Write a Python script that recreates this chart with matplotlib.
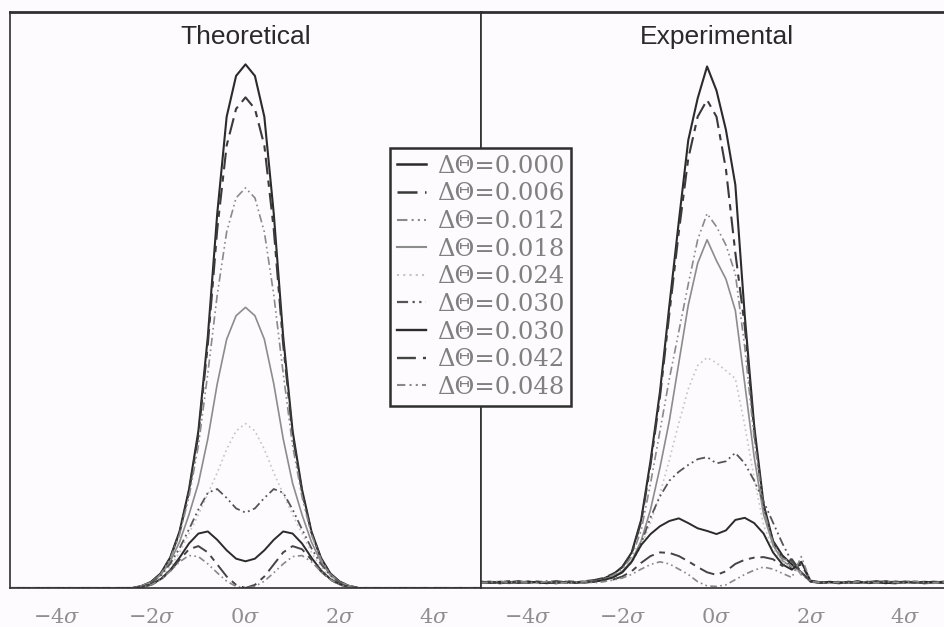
import matplotlib
matplotlib.use("Agg")
import matplotlib.pyplot as plt
from matplotlib.lines import Line2D

plt.rcParams["mathtext.fontset"] = "dejavuserif"

# ---------------------------------------------------------------- data
series_labels = ["ΔΘ=0.000", "ΔΘ=0.006", "ΔΘ=0.012", "ΔΘ=0.018", "ΔΘ=0.024",
                 "ΔΘ=0.030", "ΔΘ=0.030", "ΔΘ=0.042", "ΔΘ=0.048"]
panel_titles = ["Theoretical", "Experimental"]
tick_pos = [-4, -2, 0, 2, 4]
tick_labels = [r"$-4\sigma$", r"$-2\sigma$", r"$0\sigma$", r"$2\sigma$", r"$4\sigma$"]

# theoretical profiles (position in units of sigma)
theo_x = [-5.0, -2.4, -2.2, -2.0, -1.8, -1.6, -1.4, -1.2, -1.0, -0.8, -0.6, -0.4, -0.2,
          0.0, 0.2, 0.4, 0.6, 0.8, 1.0, 1.2, 1.4, 1.6, 1.8, 2.0, 2.2, 2.4, 5.0]
theo_d000 = [0.000, 0.000, 0.004, 0.012, 0.028, 0.058, 0.108, 0.188, 0.300, 0.480, 0.715, 0.900, 0.978,
             1.000, 0.978, 0.900, 0.715, 0.480, 0.300, 0.188, 0.108, 0.058, 0.028, 0.012, 0.004, 0.000, 0.000]
theo_d006 = [0.000, 0.000, 0.004, 0.012, 0.027, 0.057, 0.106, 0.184, 0.292, 0.465, 0.685, 0.845, 0.915,
             0.937, 0.915, 0.845, 0.685, 0.465, 0.292, 0.184, 0.106, 0.057, 0.027, 0.012, 0.004, 0.000, 0.000]
theo_d012 = [0.000, 0.000, 0.004, 0.011, 0.026, 0.055, 0.102, 0.174, 0.272, 0.410, 0.560, 0.680, 0.745,
             0.764, 0.745, 0.680, 0.560, 0.410, 0.272, 0.174, 0.102, 0.055, 0.026, 0.011, 0.004, 0.000, 0.000]
theo_d018 = [0.000, 0.000, 0.004, 0.011, 0.025, 0.050, 0.088, 0.140, 0.200, 0.285, 0.390, 0.475, 0.520,
             0.536, 0.520, 0.475, 0.390, 0.285, 0.200, 0.140, 0.088, 0.050, 0.025, 0.011, 0.004, 0.000, 0.000]
theo_d024 = [0.000, 0.000, 0.003, 0.009, 0.020, 0.040, 0.068, 0.104, 0.140, 0.180, 0.220, 0.265, 0.300,
             0.314, 0.300, 0.265, 0.220, 0.180, 0.140, 0.104, 0.068, 0.040, 0.020, 0.009, 0.003, 0.000, 0.000]
theo_d030a = [0.000, 0.000, 0.003, 0.010, 0.024, 0.046, 0.076, 0.112, 0.150, 0.182, 0.189, 0.172, 0.152,
              0.144, 0.152, 0.172, 0.189, 0.182, 0.150, 0.112, 0.076, 0.046, 0.024, 0.010, 0.003, 0.000, 0.000]
theo_d030b = [0.000, 0.000, 0.002, 0.007, 0.017, 0.034, 0.058, 0.085, 0.104, 0.108, 0.092, 0.072, 0.056,
              0.051, 0.056, 0.072, 0.092, 0.108, 0.104, 0.085, 0.058, 0.034, 0.017, 0.007, 0.002, 0.000, 0.000]
theo_d042 = [0.000, 0.000, 0.002, 0.006, 0.016, 0.032, 0.054, 0.074, 0.080, 0.068, 0.045, 0.022, 0.006,
             0.000, 0.006, 0.022, 0.045, 0.068, 0.080, 0.074, 0.054, 0.032, 0.016, 0.006, 0.002, 0.000, 0.000]
theo_d048 = [0.000, 0.000, 0.002, 0.006, 0.016, 0.032, 0.050, 0.062, 0.060, 0.046, 0.029, 0.013, 0.003,
             0.000, 0.003, 0.013, 0.029, 0.046, 0.060, 0.062, 0.050, 0.032, 0.016, 0.006, 0.002, 0.000, 0.000]

# measured profiles
exp_x = [-5.0, -4.8, -4.6, -4.4, -4.2, -4.0, -3.8, -3.6, -3.4, -3.2,
         -3.0, -2.8, -2.6, -2.4, -2.2, -2.0, -1.8, -1.6, -1.4, -1.2, -1.0, -0.8, -0.6, -0.4, -0.2,
         0.0, 0.2, 0.4, 0.6, 0.8, 1.0, 1.2, 1.4, 1.6, 1.8, 2.0, 2.2, 2.4,
         2.6, 2.8, 3.0, 3.2, 3.4, 3.6, 3.8, 4.0, 4.2, 4.4, 4.6, 4.8, 5.0]
exp_d000 = [0.010, 0.012, 0.009, 0.011, 0.013, 0.010, 0.012, 0.011, 0.009, 0.012,
            0.011, 0.012, 0.014, 0.018, 0.026, 0.040, 0.068, 0.130, 0.243, 0.375, 0.540, 0.700, 0.855, 0.935, 0.996,
            0.950, 0.875, 0.770, 0.520, 0.310, 0.160, 0.090, 0.062, 0.045, 0.030, 0.012, 0.010, 0.011,
            0.009, 0.012, 0.010, 0.011, 0.013, 0.010, 0.009, 0.012, 0.011, 0.010, 0.012, 0.011, 0.010]
exp_d006 = [0.012, 0.010, 0.011, 0.013, 0.010, 0.012, 0.009, 0.011, 0.013, 0.010,
            0.010, 0.013, 0.015, 0.019, 0.027, 0.040, 0.066, 0.126, 0.236, 0.365, 0.525, 0.680, 0.820, 0.900, 0.932,
            0.900, 0.800, 0.640, 0.500, 0.300, 0.155, 0.088, 0.058, 0.038, 0.045, 0.014, 0.011, 0.010,
            0.011, 0.010, 0.013, 0.009, 0.011, 0.012, 0.010, 0.011, 0.013, 0.009, 0.010, 0.012, 0.011]
exp_d012 = [0.011, 0.013, 0.010, 0.012, 0.009, 0.011, 0.013, 0.010, 0.012, 0.011,
            0.012, 0.011, 0.013, 0.017, 0.024, 0.036, 0.060, 0.110, 0.200, 0.300, 0.400, 0.490, 0.580, 0.665, 0.715,
            0.690, 0.655, 0.600, 0.460, 0.285, 0.150, 0.085, 0.056, 0.050, 0.025, 0.013, 0.011, 0.012,
            0.010, 0.011, 0.012, 0.010, 0.009, 0.012, 0.011, 0.013, 0.010, 0.011, 0.009, 0.012, 0.010]
exp_d018 = [0.009, 0.011, 0.012, 0.010, 0.011, 0.013, 0.010, 0.012, 0.010, 0.011,
            0.010, 0.012, 0.013, 0.016, 0.022, 0.032, 0.052, 0.090, 0.150, 0.230, 0.320, 0.430, 0.540, 0.620, 0.665,
            0.625, 0.590, 0.530, 0.390, 0.250, 0.140, 0.082, 0.052, 0.040, 0.030, 0.012, 0.010, 0.011,
            0.012, 0.010, 0.011, 0.012, 0.010, 0.011, 0.013, 0.010, 0.012, 0.011, 0.010, 0.009, 0.011]
exp_d024 = [0.012, 0.011, 0.010, 0.012, 0.011, 0.009, 0.011, 0.012, 0.010, 0.012,
            0.011, 0.012, 0.012, 0.015, 0.020, 0.030, 0.048, 0.080, 0.125, 0.180, 0.245, 0.315, 0.380, 0.425, 0.440,
            0.430, 0.415, 0.400, 0.310, 0.210, 0.120, 0.075, 0.050, 0.040, 0.028, 0.012, 0.010, 0.011,
            0.010, 0.012, 0.011, 0.010, 0.012, 0.011, 0.010, 0.012, 0.009, 0.011, 0.012, 0.010, 0.011]
exp_d030a = [0.010, 0.012, 0.011, 0.009, 0.012, 0.010, 0.011, 0.013, 0.011, 0.010,
             0.011, 0.013, 0.012, 0.015, 0.020, 0.030, 0.050, 0.085, 0.135, 0.175, 0.205, 0.222, 0.235, 0.246, 0.250,
             0.238, 0.242, 0.258, 0.238, 0.205, 0.165, 0.125, 0.085, 0.050, 0.030, 0.012, 0.010, 0.011,
             0.011, 0.009, 0.012, 0.011, 0.010, 0.012, 0.011, 0.010, 0.012, 0.010, 0.011, 0.012, 0.010]
exp_d030b = [0.011, 0.010, 0.012, 0.011, 0.010, 0.012, 0.011, 0.009, 0.012, 0.011,
             0.010, 0.011, 0.012, 0.015, 0.020, 0.030, 0.050, 0.082, 0.103, 0.118, 0.128, 0.133, 0.124, 0.114, 0.109,
             0.103, 0.110, 0.130, 0.134, 0.124, 0.104, 0.068, 0.045, 0.035, 0.050, 0.013, 0.010, 0.012,
             0.010, 0.011, 0.012, 0.010, 0.011, 0.009, 0.012, 0.011, 0.010, 0.012, 0.011, 0.010, 0.012]
exp_d042 = [0.012, 0.011, 0.010, 0.012, 0.011, 0.010, 0.012, 0.010, 0.011, 0.013,
            0.012, 0.010, 0.012, 0.013, 0.016, 0.022, 0.032, 0.048, 0.061, 0.068, 0.067, 0.061, 0.051, 0.040, 0.030,
            0.025, 0.032, 0.046, 0.054, 0.058, 0.059, 0.055, 0.042, 0.055, 0.030, 0.013, 0.011, 0.010,
            0.012, 0.011, 0.010, 0.012, 0.011, 0.013, 0.010, 0.011, 0.012, 0.010, 0.011, 0.012, 0.011]
exp_d048 = [0.010, 0.011, 0.013, 0.010, 0.012, 0.011, 0.010, 0.012, 0.011, 0.010,
            0.011, 0.012, 0.010, 0.012, 0.015, 0.019, 0.026, 0.036, 0.045, 0.050, 0.046, 0.036, 0.026, 0.012, 0.004,
            0.003, 0.006, 0.016, 0.026, 0.034, 0.040, 0.036, 0.028, 0.020, 0.060, 0.012, 0.011, 0.010,
            0.011, 0.010, 0.012, 0.011, 0.010, 0.012, 0.011, 0.010, 0.013, 0.011, 0.010, 0.011, 0.012]

theo_series = [theo_d000, theo_d006, theo_d012, theo_d018, theo_d024,
               theo_d030a, theo_d030b, theo_d042, theo_d048]
exp_series = [exp_d000, exp_d006, exp_d012, exp_d018, exp_d024,
              exp_d030a, exp_d030b, exp_d042, exp_d048]

# ---------------------------------------------------------------- styles
DDOT = (0, (5, 2, 1, 2, 1, 2))
LDASH = (0, (8, 3, 3, 3))
line_styles = [
    dict(color="#2b2b2b", lw=1.5, ls="-"),
    dict(color="#3a3a3a", lw=1.5, ls=LDASH),
    dict(color="#8a8a8a", lw=1.2, ls=DDOT),
    dict(color="#8c8c8c", lw=1.2, ls="-"),
    dict(color="#c4c4c4", lw=1.2, ls=(0, (1, 2))),
    dict(color="#555555", lw=1.3, ls=DDOT),
    dict(color="#2b2b2b", lw=1.4, ls="-"),
    dict(color="#444444", lw=1.4, ls=LDASH),
    dict(color="#888888", lw=1.2, ls=(0, (4, 2, 1, 2, 1, 2))),
]

BG = "#fdfbfd"
W, H = 945, 627
fig = plt.figure(figsize=(W / 100, H / 100), dpi=100, facecolor=BG)

ax_l = fig.add_axes([10 / W, 1 - 588 / H, 471 / W, 576 / H])
ax_r = fig.add_axes([481 / W, 1 - 588 / H, 471 / W, 576 / H])

for ax, xs, data, title in [(ax_l, theo_x, theo_series, panel_titles[0]),
                            (ax_r, exp_x, exp_series, panel_titles[1])]:
    ax.set_facecolor(BG)
    for ys, st in zip(data, line_styles):
        ax.plot(xs, ys, color=st["color"], lw=st["lw"], linestyle=st["ls"])
    ax.set_xlim(-5, 5)
    ax.set_ylim(0, 1.1)
    ax.set_yticks([])
    ax.set_xticks(tick_pos)
    ax.set_xticklabels(tick_labels, fontsize=15, color="#8f8f8f")
    ax.tick_params(axis="x", length=0, pad=14)
    for side, sp in ax.spines.items():
        sp.set_color("#303030")
        sp.set_linewidth(1.2)
    ax.spines["top"].set_linewidth(2.0)
    ax.text(0.5, 0.957, title, transform=ax.transAxes, ha="center", va="center",
            fontsize=19, family="Liberation Sans", color="#2a2a2a")

handles = [Line2D([], [], color=st["color"], lw=st["lw"] + 0.3, linestyle=st["ls"])
           for st in line_styles]
leg = fig.legend(handles, series_labels, loc="upper left",
                 bbox_to_anchor=(390 / W, 1 - 148 / H), bbox_transform=fig.transFigure,
                 borderaxespad=0, frameon=True, fancybox=False, framealpha=1,
                 facecolor=BG, edgecolor="#2f2f2f",
                 prop=dict(family="DejaVu Serif", size=17.5),
                 handlelength=1.2, handletextpad=0.45, labelspacing=0.19,
                 borderpad=0.28)
leg.get_frame().set_linewidth(1.8)
for t in leg.get_texts():
    t.set_color("#808080")

fig.savefig("out.png", dpi=100, facecolor=BG)
